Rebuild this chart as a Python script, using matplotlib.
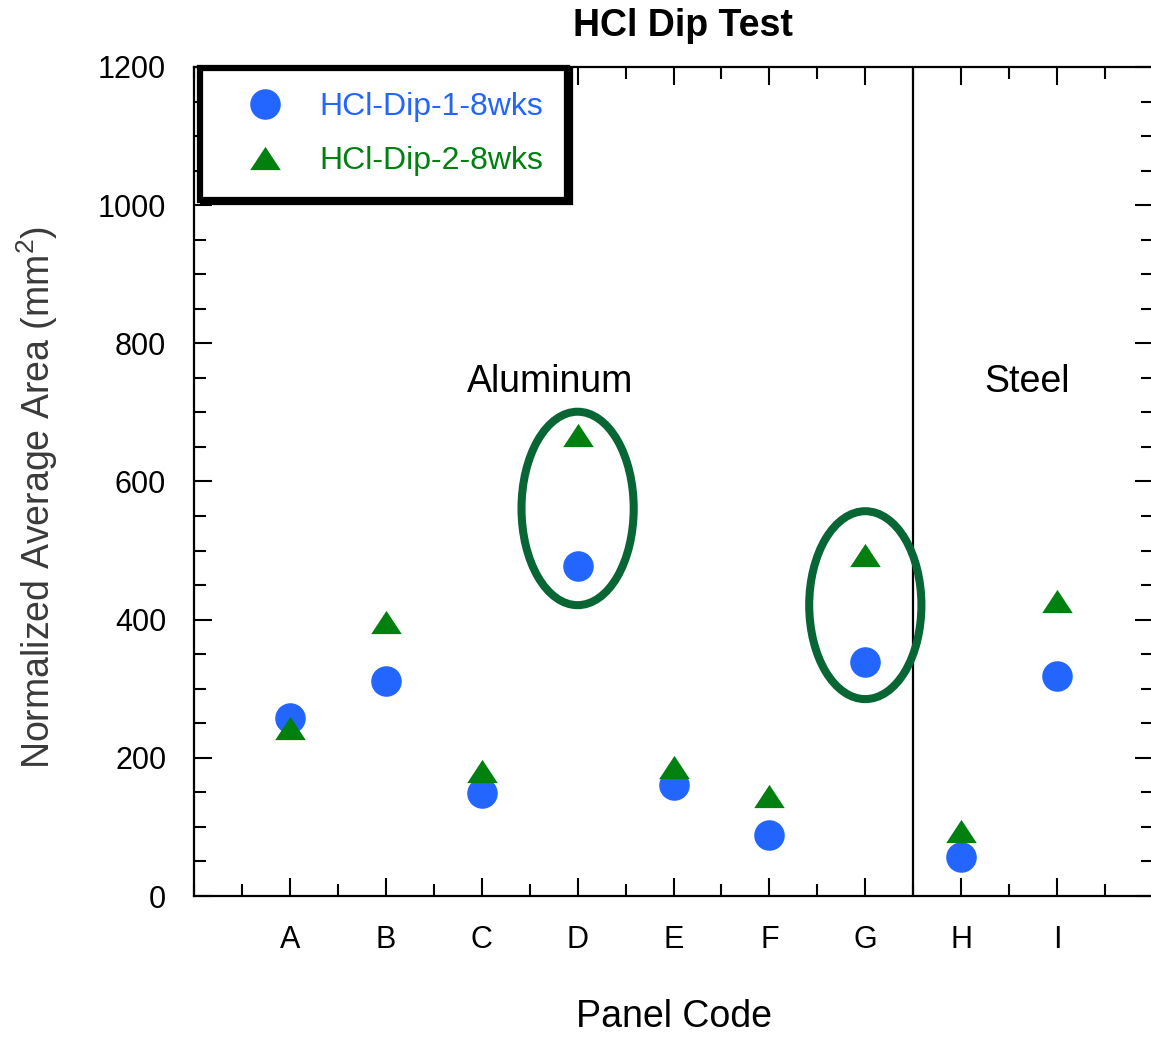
import numpy as np
import matplotlib
matplotlib.use('Agg')
import matplotlib.pyplot as plt
from matplotlib.patches import Ellipse
from matplotlib.ticker import MultipleLocator

plt.rcParams['font.family'] = ['Liberation Sans', 'DejaVu Sans']
plt.rcParams['mathtext.default'] = 'regular'

# ___________ data _______________
panels = ['A', 'B', 'C', 'D', 'E', 'F', 'G', 'H', 'I']
dip1 = [258, 311, 149, 477, 161, 88, 339, 57, 319]
dip2 = [243, 397, 181, 667, 187, 145, 494, 94, 427]
series_names = ['HCl-Dip-1-8wks', 'HCl-Dip-2-8wks']
# highlighted panels: (panel index, centre y, height)
circled = [(4, 561, 280), (7, 421, 272)]

blue = '#2266ff'
green = '#00800e'
dark_green = '#086534'

x = np.arange(1, len(panels) + 1)

fig = plt.figure(figsize=(11.51, 10.40), dpi=100)
ax = fig.add_axes([194 / 1151, 144 / 1040, 959 / 1151, 829 / 1040])

tri = [(0, 0.76), (-1, -0.76), (1, -0.76)]
ax.plot(x, dip1, 'o', color=blue, markersize=22, markeredgewidth=0,
        label=series_names[0], zorder=3)
ax.plot(x, dip2, linestyle='none', marker=tri, color=green, markersize=22,
        markeredgewidth=0, label=series_names[1], zorder=4)

for idx, cy, h in circled:
    ax.add_patch(Ellipse((idx, cy), 1.17, h, fill=False,
                         edgecolor=dark_green, linewidth=5.8, zorder=2))

ax.axvline(7.5, color='black', linewidth=1.6, zorder=1)

ax.text(3.71, 744, 'Aluminum', fontsize=27, ha='center', va='center')
ax.text(8.69, 744, 'Steel', fontsize=27, ha='center', va='center')

ax.set_xlim(0, 10)
ax.set_ylim(0, 1200)
ax.set_xticks(x)
ax.set_xticklabels(panels)
ax.xaxis.set_minor_locator(MultipleLocator(0.5))
ax.yaxis.set_major_locator(MultipleLocator(200))
ax.yaxis.set_minor_locator(MultipleLocator(50))
ax.tick_params(which='both', direction='in', top=True, right=True,
               width=1.5, labelsize=22)
ax.tick_params(axis='y', which='both', pad=20)
ax.tick_params(axis='x', which='both', pad=21)
ax.tick_params(which='major', length=13)
ax.tick_params(which='minor', length=8.5)
for s in ax.spines.values():
    s.set_linewidth(1.6)

ax.set_xlabel('Panel Code', fontsize=27)
ax.xaxis.set_label_coords(0.5, -0.146)
ax.xaxis.label.set_va('center')
ax.set_ylabel('Normalized Average Area (mm$^2$)', fontsize=27, color='#3a3a3a')
ax.yaxis.set_label_coords(-0.164, 0.481)
ax.yaxis.label.set_va('center')

ax.set_title('HCl Dip Test', fontsize=27, fontweight='bold',
             x=0.510, y=1.039, va='center')

leg = ax.legend(loc='upper left', bbox_to_anchor=(0.006, 0.999), borderaxespad=0,
                fontsize=23, handlelength=2.6, handletextpad=0.4, borderpad=0.75,
                labelspacing=0.75, fancybox=False, framealpha=1,
                shadow={'color': 'black', 'alpha': 1})
leg.get_frame().set_edgecolor('black')
leg.get_frame().set_linewidth(4.5)
for t, c in zip(leg.get_texts(), [blue, green]):
    t.set_color(c)

fig.savefig('out.png', dpi=100)
